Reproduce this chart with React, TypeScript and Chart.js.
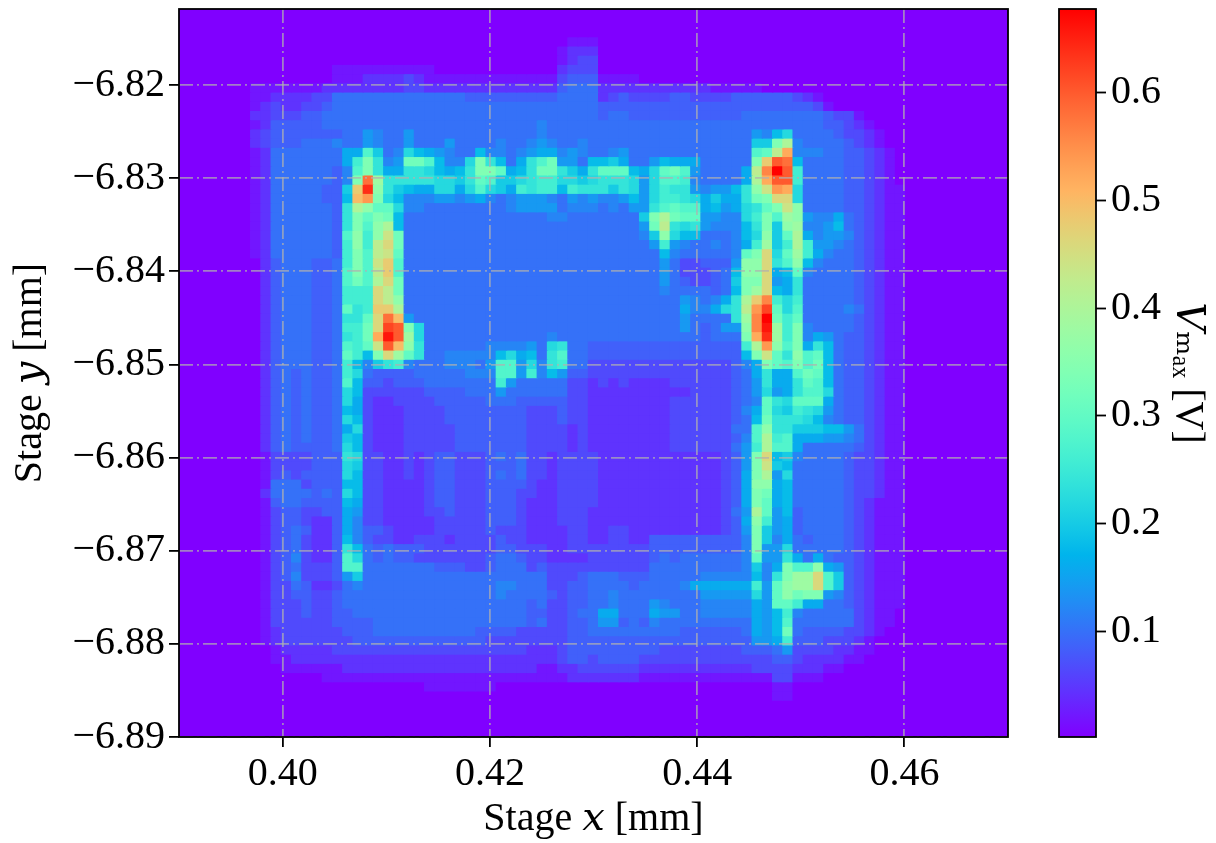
import React, { useEffect, useRef } from "react";
import { Chart, registerables } from "chart.js";

Chart.register(...registerables);

// Stage x / y extents of the map [mm] and colour range [V]
const xLimits = [0.39, 0.47];
const yLimits = [-6.89, -6.81184];
const vLimits = [0.0015, 0.678];

const xTicks = [0.4, 0.42, 0.44, 0.46];
const yTicks = [-6.89, -6.88, -6.87, -6.86, -6.85, -6.84, -6.83, -6.82];
const vTicks = [0.1, 0.2, 0.3, 0.4, 0.5, 0.6];

const xTitle = "Stage 𝑥 [mm]";
const yTitle = "Stage 𝑦 [mm]";
const vTitle = "𝑉ₘₐₓ [V]";

// Vmax, top row first, one base-36 digit per cell, 1 digit = 0.02 V
const levelStep = 0.02;
const vmaxRows = [
  "0000000000 0000000000 0000000000 0000000000 0000000000 0000000000 0000000000 0",
  "0000000000 0000000000 0000000000 0000000000 0000000000 0000000000 0000000000 0",
  "0000000000 0000000000 0000000000 0000000000 0000000000 0000000000 0000000000 0",
  "0000000000 0000000000 0000000000 0000000011 1000000000 0000000000 0000000000 0",
  "0000000000 0000000000 0000000000 0000000122 2000000000 0000000000 0000000000 0",
  "0000000000 0000000000 0000000000 0000000123 3000000000 0000000000 0000000000 0",
  "0000000000 0000011111 1111100000 0000000233 3000000000 0000000000 0000000000 0",
  "0000000000 0000011122 2232111111 1111111344 4111100000 0000000000 0000000000 0",
  "0000000111 1111222222 2233222222 2222222455 5222222222 2211111000 0000000000 0",
  "0000000112 2223355555 5555555544 4444444555 5234333344 3333444444 3210000000 0",
  "0000000123 2233455555 5555555555 5555555555 5444444444 4444444444 4431000000 0",
  "0000000223 3344555555 5555555555 5555555555 5455444444 4444455555 5554331000 0",
  "0000000124 4444555555 5555555555 5555565555 5555555555 5555555555 5554432100 0",
  "0000000234 4444445576 5575555555 5555565555 5555555555 555555769b 5555433210 0",
  "0000000234 4455565576 5575557555 5655676556 5555555555 555555aahk 6555543210 0",
  "0000000125 5555558 8ea 56b9876559 6656788676 5567555555 555555eflq 6665544321 0",
  "0000000125 5555558dhc 67gge966bh c958ceg775 99a8557988 855555hout 9555544321 0",
  "0000000125 5555546ehc 88ccb989ch hf89cggca8 cfff98bfge 755558lsyu d555544321 0",
  "0000000125 5555546htj cccccbbacf eaabcddbba bcccb7beed 655558kquu d555544321 0",
  "0000000125 555544aowi ca988bb8be ba8dcdd9dc ccacb7bdcc 76779cimrq b555544321 1",
  "0000000125 5555449prh b966677678 6567776576 766797bddc b8a88cghnn b555544321 1",
  "0000000125 555554ckif fb66555555 5567777566 656577cefe e8978bcfhm i555544321 1",
  "0000000125 555554chfh g955555555 5555556655 55555ahkgf f7766bdhej i766854321 1",
  "0000000125 555554chei k955555555 5555555555 555557glcb c76669chai j667954321 1",
  "0000000125 555554eidi mg55555555 5555555555 555556aib9 955569biaf k867764321 1",
  "0000000125 555554didl ng55555555 5555555555 5555557d76 556568djad kd77654321 1",
  "0000000125 555554dhel mf55555555 5555555555 5555555965 55556fhnbf jd86554321 1",
  "0000000024 555445dhem oe55555555 5555555555 5555555753 34447iince i965554321 1",
  "0000000024 555445ehel oe55555555 5555555555 5555555753 33459iin89 f655554321 1",
  "0000000024 555445egek ng55555555 5555555555 5555555754 3345ahhn78 c555554321 1",
  "0000000024 555445dddn lg55555555 5555555555 5555555655 55459hjn98 c555554321 1",
  "0000000024 555445dddn li55555555 5555555555 5555555557 6568ckosdb d555554321 1",
  "0000000024 555445fcdo ok55555555 5555555555 5555555558 668bclrvfb e555565321 1",
  "0000000024 555445ccfn tp75555555 5555555555 5555555557 5555cjsygd f555554321 1",
  "0000000024 555445ddgn vuhb555555 5555555555 5555555557 54577isxjd h655554321 1",
  "0000000024 555445cdgq xujb555555 5555556555 5555555555 54555hqwjd h687544321 1",
  "0000000024 555445edfm upic555555 666675bc55 4444444444 44444dkrie h8c9544321 1",
  "0000000024 555445fd9h njfc556666 69b895ce55 4444444444 444449hmfc ief9544321 1",
  "0000000024 555445d96a cd65556665 7ee7b6cd55 3333333333 3333468hfe heg9544321 1",
  "0000000024 545445db54 4445555566 6ee7d69744 3333333333 3333458c88 egf9544321 1",
  "0000000024 545445e944 3444555555 5d75555533 2323222233 3333457c88 cfe9544321 1",
  "0000000024 545445b933 3333444455 5755555533 2222222222 3333457b78 ceeb544321 1",
  "0000000024 545445b832 2333344444 5554444433 2222222233 3333456fcb fff8544321 1",
  "0000000024 5454459832 2233334444 4444333433 2222222233 3333468fba dcb7544321 1",
  "0000000024 545445b932 2233334444 4444333433 2222222233 3333459gcc cb96544321 1",
  "0000000024 5454458b32 2233333444 4444333323 2222222233 333355eicc aaa9975321 1",
  "0000000024 545445a932 2233333444 4444333323 2222222233 333346ekde 8887765321 1",
  "0000000024 544445b932 2233333444 4444333323 2222222233 333357dkee 8555554321 1",
  "0000000013 333444cb33 2232344333 4545332333 3222222222 222347hn9a 6555543321 1",
  "0000000013 333444ba33 2232344333 4445332333 3222222222 222347hma9 5555543321 1",
  "0000000013 434444b933 2232344333 4545332333 3222222222 222348hk7b 5555543321 1",
  "0000000015 5534449933 2222344333 4444322333 3222222222 222348ii89 5555543321 1",
  "0000000025 555454b933 2222344333 4443322333 3222222222 222348hg89 5555543321 1",
  "0000000014 5544449833 2222344333 4443222333 3222222222 222348hf89 5555543211 1",
  "0000000013 4433448733 2222334333 4443222333 2222222222 222357kf79 4555543211 1",
  "0000000013 4432248633 2222233333 4443222333 2222222222 222348id78 4555543211 1",
  "0000000013 4542248644 3222233333 4333222233 2233222222 222347ha78 4555543211 1",
  "0000000013 4532249643 3223332333 3433222233 2233224444 444446ha68 5455543211 1",
  "0000000013 453224c954 5444333333 3443332233 3333334444 444446h77b 5555543211 1",
  "0000000013 463224eb54 5443333333 4554332222 3333334545 555556f77c 8585443211 1",
  "0000000013 453334ee55 5555544433 4555343333 3333335555 555556a68h eei8743211 1",
  "0000000013 4633347a55 5555555555 5555553334 5554445555 56666696ch jjnea43211 1",
  "0000000013 3542235655 5555555555 5665553344 5555455556 888888d7fi jjnea43211 1",
  "0000000013 3443345555 5555555555 5655554344 5565555555 577777b7fi ghh7643211 1",
  "0000000013 3343345555 5555555555 5555453344 5565557655 56666687ff d885543211 1",
  "0000000013 3343344555 5555555555 5555443345 5885558775 566666879d 6555553211 0",
  "0000000013 3333344445 5555555555 5555453344 5774546555 555555879e 5555553211 0",
  "0000000012 3333334445 5555555554 4443333344 5555555554 444445879g 5444433210 0",
  "0000000012 3333333444 4444444444 3333333344 4444444444 444444778d 4443332100 0",
  "0000000001 2222233333 3333333333 3333222344 4444444333 3333344457 3333221100 0",
  "0000000001 1222222222 2222222222 2222222344 3444433333 3333333344 3222211000 0",
  "0000000000 1111112222 2222222222 2222211223 3333322222 2222223333 2221100000 0",
  "0000000000 0000111111 1111111111 1111111122 2222211111 1111111133 1110000000 0",
  "0000000000 0000000000 0000111111 1000000000 0000000000 0000000011 0000000000 0",
  "0000000000 0000000000 0000000000 0000000000 0000000000 0000000011 0000000000 0",
  "0000000000 0000000000 0000000000 0000000000 0000000000 0000000000 0000000000 0",
  "0000000000 0000000000 0000000000 0000000000 0000000000 0000000000 0000000000 0",
  "0000000000 0000000000 0000000000 0000000000 0000000000 0000000000 0000000000 0",
  "0000000000 0000000000 0000000000 0000000000 0000000000 0000000000 0000000000 0",
];

const COLS = 81;
const FONT_FAMILY = "'Liberation Serif', 'DejaVu Serif', serif";

function rainbow(v: number): string {
  const t = Math.min(1, Math.max(0, (v - vLimits[0]) / (vLimits[1] - vLimits[0])));
  const r = Math.min(1, Math.abs(2 * t - 0.5));
  const g = Math.sin(Math.PI * t);
  const b = Math.cos((Math.PI * t) / 2);
  return `rgb(${Math.round(r * 255)},${Math.round(g * 255)},${Math.round(b * 255)})`;
}

const frame = {
  id: "frame",
  afterDraw(chart: any) {
    const { ctx, chartArea: a } = chart;
    ctx.save();
    ctx.strokeStyle = "#000";
    ctx.lineWidth = 1.8;
    ctx.strokeRect(a.left, a.top, a.right - a.left, a.bottom - a.top);
    ctx.restore();
  },
};

function buildMapDatasets() {
  const rows = vmaxRows.map((r) => r.replace(/ /g, ""));
  const dx = (xLimits[1] - xLimits[0]) / COLS;
  const dy = (yLimits[1] - yLimits[0]) / rows.length;
  const xs = Array.from({ length: COLS }, (_, c) => xLimits[0] + (c + 0.5) * dx);
  return rows.map((row, r) => {
    const k = rows.length - 1 - r;
    const lo = yLimits[0] + k * dy;
    const hi = lo + dy;
    const colors: string[] = [];
    const data = xs.map((x, c) => {
      const lv = parseInt(row[c] ?? "0", 36) || 0;
      colors.push(rainbow(lv * levelStep + (lv > 1 && lv < 5 ? 0.005 : 0)));
      return { x, y: [lo, hi] };
    });
    return {
      label: `row ${r}`,
      data,
      backgroundColor: colors,
      borderWidth: 0,
      grouped: false,
      barPercentage: 1,
      categoryPercentage: 1,
      inflateAmount: 0.6,
    };
  });
}

const tickFont = { family: FONT_FAMILY, size: 40 };
const gridStyle = {
  z: 1,
  color: "rgba(176,176,176,0.72)",
  lineWidth: 1.8,
  tickColor: "#000",
  tickWidth: 1.8,
  tickLength: 10,
  offset: false,
};
const borderStyle = { dash: [14, 4, 2, 4], display: false };
const softEdge = "blur(0.5px)";

export default function App() {
  const mapRef = useRef<HTMLCanvasElement | null>(null);
  const barRef = useRef<HTMLCanvasElement | null>(null);

  useEffect(() => {
    const map = new Chart(mapRef.current as HTMLCanvasElement, {
      type: "bar",
      data: { datasets: buildMapDatasets() as any },
      plugins: [frame],
      options: {
        animation: false,
        responsive: false,
        events: [],
        layout: { padding: { top: 9, right: 32, left: 0, bottom: 0 } },
        plugins: { legend: { display: false }, tooltip: { enabled: false } },
        scales: {
          x: {
            type: "linear",
            offset: false,
            min: xLimits[0],
            max: xLimits[1],
            afterBuildTicks: (s: any) => {
              s.ticks = xTicks.map((value) => ({ value }));
            },
            afterFit: (s: any) => {
              s.height = 106;
              s.paddingLeft = 0;
              s.paddingRight = 0;
            },
            grid: gridStyle,
            border: borderStyle,
            ticks: {
              color: "#000",
              font: tickFont,
              padding: 3,
              maxRotation: 0,
              autoSkip: false,
              callback: (v: any) => Number(v).toFixed(2),
            },
            title: {
              display: true,
              text: xTitle,
              color: "#000",
              font: tickFont,
              padding: { top: 0, bottom: 0 },
            },
          },
          y: {
            type: "linear",
            min: yLimits[0],
            max: yLimits[1],
            beginAtZero: false,
            afterBuildTicks: (s: any) => {
              s.ticks = yTicks.map((value) => ({ value }));
            },
            afterFit: (s: any) => {
              s.width = 179;
              s.paddingTop = 0;
              s.paddingBottom = 0;
            },
            grid: gridStyle,
            border: borderStyle,
            ticks: {
              color: "#000",
              font: tickFont,
              padding: 4,
              autoSkip: false,
              callback: (v: any) => "\u2212" + Math.abs(Number(v)).toFixed(2),
            },
            title: {
              display: true,
              text: yTitle,
              color: "#000",
              font: tickFont,
              padding: { top: 6, bottom: 0 },
            },
          },
        },
      } as any,
    });

    const bar = new Chart(barRef.current as HTMLCanvasElement, {
      type: "bar",
      data: {
        labels: ["Vmax"],
        datasets: [
          {
            label: "colour scale",
            data: [vLimits as any],
            borderWidth: 0,
            barPercentage: 1,
            categoryPercentage: 1,
            backgroundColor: (c: any) => {
              const a = c.chart.chartArea;
              if (!a) return "#000";
              const g = c.chart.ctx.createLinearGradient(0, a.bottom, 0, a.top);
              for (let i = 0; i <= 32; i++) {
                g.addColorStop(i / 32, rainbow(vLimits[0] + (i / 32) * (vLimits[1] - vLimits[0])));
              }
              return g;
            },
          },
        ],
      },
      plugins: [frame],
      options: {
        animation: false,
        responsive: false,
        events: [],
        layout: { padding: { top: 9, left: 19, right: 0, bottom: 106 } },
        plugins: { legend: { display: false }, tooltip: { enabled: false } },
        scales: {
          x: { display: false },
          y: {
            type: "linear",
            position: "right",
            min: vLimits[0],
            max: vLimits[1],
            beginAtZero: false,
            afterBuildTicks: (s: any) => {
              s.ticks = vTicks.map((value) => ({ value }));
            },
            afterFit: (s: any) => {
              s.width = 120;
              s.paddingTop = 0;
              s.paddingBottom = 0;
            },
            grid: {
              drawOnChartArea: false,
              tickColor: "#000",
              tickWidth: 1.8,
              tickLength: 10,
            },
            border: { display: false },
            ticks: {
              color: "#000",
              font: tickFont,
              padding: 5,
              autoSkip: false,
              callback: (v: any) => Number(v).toFixed(1),
            },
            title: {
              display: true,
              text: vTitle,
              color: "#000",
              font: tickFont,
              padding: { top: 5, bottom: 0 },
            },
          },
        },
      } as any,
    });

    return () => {
      map.destroy();
      bar.destroy();
    };
  }, []);

  return (
    <div style={{ position: "fixed", left: 0, top: 0, width: 1216, height: 843, background: "#fff" }}>
      <canvas ref={mapRef} width={1040} height={843} style={{ position: "absolute", left: 0, top: 0, filter: softEdge }} />
      <canvas ref={barRef} width={176} height={843} style={{ position: "absolute", left: 1040, top: 0, filter: softEdge }} />
    </div>
  );
}
